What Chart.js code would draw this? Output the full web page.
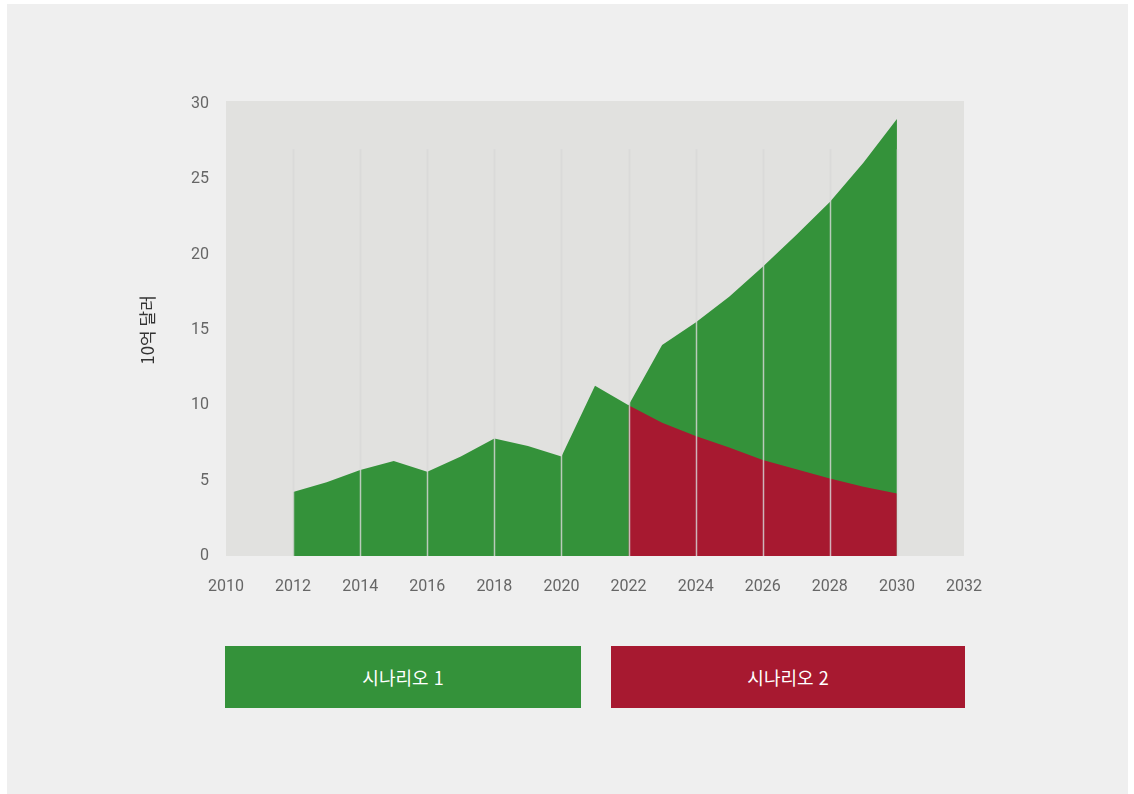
<!DOCTYPE html>
<html lang="ko">
<head>
<meta charset="utf-8">
<title>시나리오 비교</title>
<script src="https://cdn.jsdelivr.net/npm/chart.js@4.4.1/dist/chart.umd.min.js"></script>
<style>
    html, body {
        margin: 0;
        padding: 0;
        background: #ffffff;
        width: 1134px;
        height: 794px;
        overflow: hidden;
    }
    #panel {
        position: absolute;
        left: 7px;
        top: 4px;
        width: 1121px;
        height: 790px;
        background: #efefef;
    }
    #chart {
        position: absolute;
        left: 0;
        top: 0;
    }
    .legend-box {
        position: absolute;
        top: 646px;
        height: 62px;
        line-height: 62px;
        text-align: center;
        color: #ffffff;
        font-family: "Noto Sans CJK KR", "Noto Sans", sans-serif;
        font-size: 18px;
    }
</style>
</head>
<body>
<div id="panel"></div>
<canvas id="chart" width="1134" height="794"></canvas>
<div id="legend"></div>

<script>
// ===== 데이터 =====
const years = [2012, 2013, 2014, 2015, 2016, 2017, 2018, 2019, 2020, 2021,
               2022, 2023, 2024, 2025, 2026, 2027, 2028, 2029, 2030];
const scenario1 = [4.25, 4.9, 5.7, 6.3, 5.6, 6.6, 7.8, 7.3, 6.6, 11.3,
                   10.0, 14.0, 15.5, 17.2, 19.2, 21.3, 23.5, 26.1, 29.0];
const scenario2 = [null, null, null, null, null, null, null, null, null, null,
                   10.0, 8.85, 7.96, 7.2, 6.37, 5.75, 5.15, 4.6, 4.15];
const seriesLabels = ['시나리오 1', '시나리오 2'];
const seriesColors = ['#34923a', '#a71930'];

const xTicks = [2010, 2012, 2014, 2016, 2018, 2020, 2022, 2024, 2026, 2028, 2030, 2032];
const yTicks = [0, 5, 10, 15, 20, 25, 30];
const gridYears = [2012, 2014, 2016, 2018, 2020, 2022, 2024, 2026, 2028, 2030];
const gridTop = 27;

const TICK_FONT = { family: 'Roboto', size: 16 };

// {x, y} 쌍으로 변환 (빈 값은 제외)
function toPoints(values) {
    return years
        .map((year, i) => ({ x: year, y: values[i] }))
        .filter(p => p.y !== null);
}

// 플롯 영역 배경
const plotBackground = {
    id: 'plotBackground',
    beforeDraw(chart) {
        const { ctx, chartArea } = chart;
        ctx.save();
        ctx.fillStyle = '#e1e1df';
        ctx.fillRect(chartArea.left, chartArea.top - 3,
                     chartArea.right - chartArea.left, chartArea.bottom - chartArea.top + 3);
        ctx.restore();
    }
};

// 영역 위에 그리는 세로 격자선
const yearLines = {
    id: 'yearLines',
    afterDatasetsDraw(chart) {
        const { ctx, scales } = chart;
        const y0 = scales.y.getPixelForValue(0);
        const y1 = scales.y.getPixelForValue(gridTop);
        ctx.save();
        ctx.strokeStyle = 'rgba(216, 216, 216, 0.82)';
        ctx.lineWidth = 1.5;
        gridYears.forEach(year => {
            const x = Math.round(scales.x.getPixelForValue(year)) + 0.5;
            ctx.beginPath();
            ctx.moveTo(x, y0);
            ctx.lineTo(x, y1);
            ctx.stroke();
        });
        ctx.restore();
    }
};

const areaStyle = {
    borderWidth: 0,
    pointRadius: 0,
    pointHoverRadius: 0,
    tension: 0,
    fill: 'origin'
};

new Chart(document.getElementById('chart'), {
    type: 'line',
    data: {
        datasets: [
            // 시나리오 2가 위에 그려지도록 먼저 둔다
            { ...areaStyle, label: seriesLabels[1], data: toPoints(scenario2),
              backgroundColor: seriesColors[1], borderColor: seriesColors[1] },
            { ...areaStyle, label: seriesLabels[0], data: toPoints(scenario1),
              backgroundColor: seriesColors[0], borderColor: seriesColors[0] }
        ]
    },
    options: {
        responsive: false,
        animation: false,
        layout: {
            padding: { left: 128, right: 170, top: 104, bottom: 188 }
        },
        plugins: {
            legend: { display: false },
            tooltip: { enabled: false }
        },
        scales: {
            x: {
                type: 'linear',
                min: 2010,
                max: 2032,
                afterBuildTicks: scale => { scale.ticks = xTicks.map(v => ({ value: v })); },
                afterFit: scale => { scale.height = 50; },
                grid: { display: false, drawTicks: false },
                border: { display: false },
                ticks: {
                    color: '#666666',
                    font: TICK_FONT,
                    padding: 21,
                    maxRotation: 0,
                    callback: value => String(value)
                }
            },
            y: {
                min: 0,
                max: 30,
                afterBuildTicks: scale => { scale.ticks = yTicks.map(v => ({ value: v })); },
                afterFit: scale => { scale.width = 98; },
                grid: { display: false, drawTicks: false },
                border: { display: false },
                ticks: {
                    color: '#666666',
                    font: TICK_FONT,
                    padding: 17
                },
                title: {
                    display: true,
                    text: '10억 달러',
                    color: '#333333',
                    font: { family: 'Noto Sans CJK KR', size: 17 },
                    padding: { top: 9, bottom: 0 }
                }
            }
        }
    },
    plugins: [plotBackground, yearLines]
});

// 범례 상자
const legendBoxes = [
    { left: 225, width: 356 },
    { left: 611, width: 354 }
];
const legendEl = document.getElementById('legend');
seriesLabels.forEach((label, i) => {
    const box = document.createElement('div');
    box.className = 'legend-box';
    box.style.left = legendBoxes[i].left + 'px';
    box.style.width = legendBoxes[i].width + 'px';
    box.style.background = seriesColors[i];
    box.textContent = label;
    legendEl.appendChild(box);
});
</script>
</body>
</html>
